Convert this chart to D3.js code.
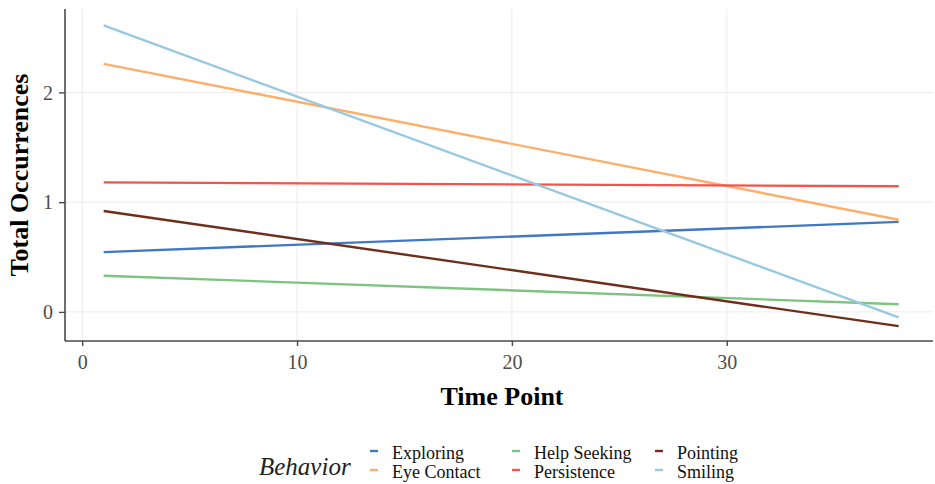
<!DOCTYPE html>
<html>
<head>
<meta charset="utf-8">
<script src="https://cdn.jsdelivr.net/npm/d3@7"></script>
<style>
  html, body { margin: 0; padding: 0; background: #fff; }
  svg { display: block; }
  svg text { font-family: "Liberation Serif", "Times New Roman", serif; }
</style>
</head>
<body>
<svg id="chart" width="935" height="484"></svg>
<script>
// Fitted trend of each behavior across time points (start and end of the fitted line)
const behaviors = ["Exploring", "Eye Contact", "Help Seeking", "Persistence", "Pointing", "Smiling"];
const timePoints = [1, 38];
const exploring   = [0.545, 0.82];
const eyeContact  = [2.26, 0.84];
const helpSeeking = [0.33, 0.07];
const persistence = [1.18, 1.145];
const pointing    = [0.92, -0.13];
const smiling     = [2.61, -0.05];
const colors = ["#3f78c4", "#fdae6b", "#7cc47f", "#f2534a", "#6e2f1a", "#98c9e2"];
const xTicks = [0, 10, 20, 30];
const yTicks = [0, 1, 2];

const seriesValues = [exploring, eyeContact, helpSeeking, persistence, pointing, smiling];
const series = behaviors.map((name, i) => ({
  name, color: colors[i],
  points: timePoints.map((t, j) => ({ t, v: seriesValues[i][j] }))
}));

const serif = "'Liberation Serif', 'Times New Roman', serif";
const svg = d3.select("#chart");
const panel = { left: 65, right: 933, top: 9, bottom: 341 };

const x = d3.scaleLinear().domain([-0.8, 39.6]).range([panel.left, panel.right]);
const y = d3.scaleLinear().domain([-0.265, 2.76]).range([panel.bottom, panel.top]);

// grid
const grid = svg.append("g");
grid.selectAll("line.gx").data(xTicks).join("line")
  .attr("x1", d => x(d)).attr("x2", d => x(d)).attr("y1", panel.top).attr("y2", panel.bottom)
  .attr("stroke", "#ebebeb").attr("stroke-width", 1);
grid.selectAll("line.gy").data(yTicks).join("line")
  .attr("y1", d => y(d)).attr("y2", d => y(d)).attr("x1", panel.left).attr("x2", panel.right)
  .attr("stroke", "#ebebeb").attr("stroke-width", 1);

// lines
const line = d3.line().x(d => x(d.t)).y(d => y(d.v));
svg.append("g").selectAll("path").data(series).join("path")
  .attr("d", d => line(d.points))
  .attr("fill", "none")
  .attr("stroke", d => d.color)
  .attr("stroke-width", 2.4);

// axes
const xAxis = svg.append("g").attr("transform", `translate(0,${panel.bottom})`)
  .call(d3.axisBottom(x).tickValues(xTicks).tickFormat(d3.format("d"))
    .tickSize(5).tickPadding(6).tickSizeOuter(0));
const yAxis = svg.append("g").attr("transform", `translate(${panel.left},0)`)
  .call(d3.axisLeft(y).tickValues(yTicks).tickFormat(d3.format("d"))
    .tickSize(6).tickPadding(6).tickSizeOuter(0));
[xAxis, yAxis].forEach(a => {
  a.attr("font-family", serif);
  a.select(".domain").attr("stroke", "#4a4a4a").attr("stroke-width", 1.6);
  a.selectAll(".tick line").attr("stroke", "#4a4a4a").attr("stroke-width", 1.4);
  a.selectAll(".tick text").attr("fill", "#4d4d4d")
    .style("font-family", serif).style("font-size", "20px");
});
xAxis.selectAll(".tick text").attr("dy", "0.85em");
yAxis.selectAll(".tick text").attr("dy", "0.34em");
xAxis.select(".domain").attr("d", `M${panel.left},0H${panel.right}`);
yAxis.select(".domain").attr("d", `M0,${panel.top}V${panel.bottom}`);

// axis titles
svg.append("text").attr("x", 502).attr("y", 405).attr("text-anchor", "middle")
  .style("font-family", serif).style("font-size", "26px").style("font-weight", "bold")
  .attr("fill", "#000").text("Time Point");
svg.append("text").attr("transform", "translate(28,175) rotate(-90)").attr("text-anchor", "middle")
  .style("font-family", serif).style("font-size", "26px").style("font-weight", "bold")
  .attr("fill", "#000").text("Total Occurrences");

// legend
const legend = svg.append("g");
legend.append("text").attr("x", 259).attr("y", 475)
  .style("font-family", serif).style("font-size", "25px").style("font-style", "italic")
  .attr("fill", "#222").text("Behavior");
const colX = [370, 512, 655];
series.forEach((s, i) => {
  const col = Math.floor(i / 2), row = i % 2;
  const gx = colX[col], gy = 459 + row * 19;
  legend.append("line").attr("x1", gx).attr("x2", gx + 8).attr("y1", gy - 8).attr("y2", gy - 8)
    .attr("stroke", s.color).attr("stroke-width", 2.4);
  legend.append("text").attr("x", gx + 22).attr("y", gy)
    .style("font-family", serif).style("font-size", "18px").attr("fill", "#111").text(s.name);
});
</script>
</body>
</html>
